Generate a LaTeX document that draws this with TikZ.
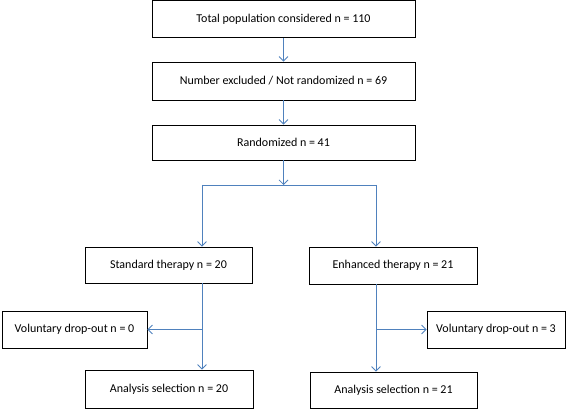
\documentclass[tikz,border=0pt]{standalone}
\usepackage{fontspec}
\setmainfont{Carlito}
\usetikzlibrary{arrows.meta}
\definecolor{flowblue}{RGB}{79,129,189}
\begin{document}
\begin{tikzpicture}[x=1pt,y=1pt,
  box/.style={draw=black,line width=0.8pt,inner sep=0pt,font=\fontsize{12}{14}\selectfont},
  flow/.style={draw=flowblue,line width=0.8pt},
  arr/.style={flow,-{Straight Barb[length=4.5pt,width=9pt]}}]
\useasboundingbox (0,0) rectangle (567,-411);
\node [box,minimum width=263,minimum height=37] (total) at (283.5,-19) {Total population considered n = 110};
\node [box,minimum width=263,minimum height=38] (excl) at (283.5,-81) {Number excluded / Not randomized n = 69};
\node [box,minimum width=263,minimum height=35] (rand) at (283.5,-142.5) {Randomized n = 41};
\node [box,minimum width=167,minimum height=36] (std) at (168.5,-265) {Standard therapy n = 20};
\node [box,minimum width=168,minimum height=37] (enh) at (393,-265.5) {Enhanced therapy n = 21};
\node [box,minimum width=145,minimum height=37] (dropL) at (74.5,-329.5) {Voluntary drop-out n = 0};
\node [box,minimum width=138,minimum height=37] (dropR) at (496,-329.5) {Voluntary drop-out n = 3};
\node [box,minimum width=168,minimum height=38] (anaL) at (169,-389) {Analysis selection n = 20};
\node [box,minimum width=167,minimum height=36] (anaR) at (393.5,-390) {Analysis selection n = 21};
\coordinate (split) at (283.5,-185);
\coordinate (lft) at (202,-185);
\coordinate (rgt) at (376,-185);
\draw [arr] (total.south) -- (excl.north);
\draw [arr] (excl.south) -- (rand.north);
\draw [arr] (rand.south) -- (split);
\draw [flow] (lft) -- (rgt);
\draw [arr] (lft) -- (lft |- std.north);
\draw [arr] (rgt) -- (rgt |- enh.north);
\draw [arr] (lft |- std.south) -- (lft |- anaL.north);
\draw [arr] (lft |- dropL.east) -- (dropL.east);
\draw [arr] (rgt |- enh.south) -- (rgt |- anaR.north);
\draw [arr] (rgt |- dropR.west) -- (dropR.west);
\end{tikzpicture}
\end{document}
